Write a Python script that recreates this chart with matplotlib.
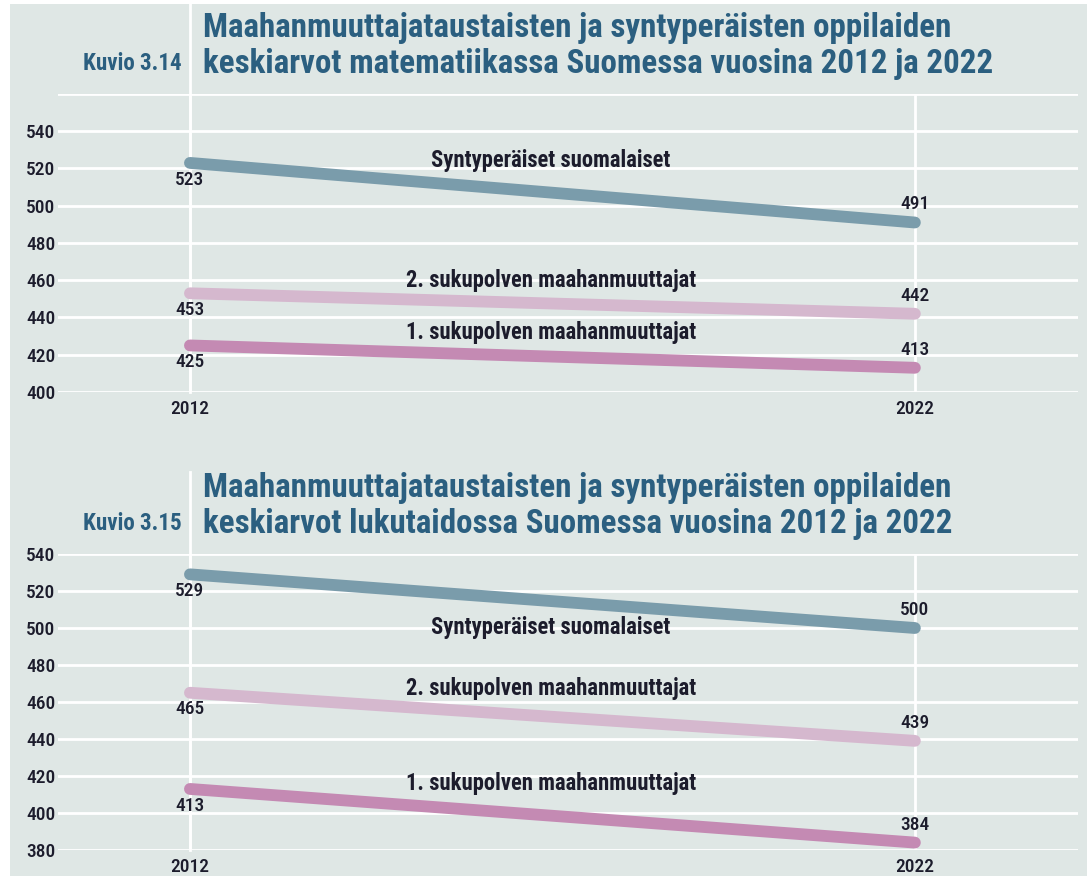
import matplotlib
matplotlib.use('Agg')
import matplotlib.pyplot as plt
from matplotlib import font_manager
from matplotlib.font_manager import FontProperties
from matplotlib.patches import Rectangle

# Data
years = [2012, 2022]
series_names = ['Syntyperäiset suomalaiset',
                '2. sukupolven maahanmuuttajat',
                '1. sukupolven maahanmuuttajat']
math_values = [[523, 491], [453, 442], [425, 413]]
read_values = [[529, 500], [465, 439], [413, 384]]
math_ticks = [400, 420, 440, 460, 480, 500, 520, 540, 560]
read_ticks = [380, 400, 420, 440, 460, 480, 500, 520, 540]

math_title = ['Maahanmuuttajataustaisten ja syntyperäisten oppilaiden',
              'keskiarvot matematiikassa Suomessa vuosina 2012 ja 2022']
read_title = ['Maahanmuuttajataustaisten ja syntyperäisten oppilaiden',
              'keskiarvot lukutaidossa Suomessa vuosina 2012 ja 2022']

# Värit
colors = ['#7a9cab', '#d5b8ce', '#c48ab3']
BG = '#dfe7e5'
TITLE_C = '#2b5f80'
TEXT_C = '#1c1c2c'


# Etsitään kapea (condensed) fontti, jos sellainen löytyy
def weight_num(w):
    if isinstance(w, (int, float)):
        return int(w)
    return font_manager.weight_dict.get(str(w), 400)


narrow = {}
for f in font_manager.fontManager.ttflist:
    st = str(f.stretch)
    if 'condensed' in st or st.isdigit() and int(st) < 100 or 'Narrow' in f.name:
        if f.style != 'normal':
            continue
        narrow.setdefault(f.name, {})[weight_num(f.weight)] = f.fname

bold_path, reg_path = None, None
for name in ['Roboto Condensed', 'Open Sans Condensed', 'Open Sans', 'Noto Sans',
             'Liberation Sans Narrow', 'DejaVu Sans'] + sorted(narrow):
    if name in narrow:
        ws = narrow[name]
        b = [w for w in ws if w >= 600]
        r = [w for w in ws if 400 <= w < 600]
        if b:
            bold_path = ws[min(b, key=lambda w: abs(w - 700))]
            reg_path = ws[min(r, key=lambda w: abs(w - 500))] if r else bold_path
            break

if bold_path:
    FP_BOLD = FontProperties(fname=bold_path)
    FP_REG = FontProperties(fname=reg_path)
else:
    FP_BOLD = FontProperties(family='DejaVu Sans', weight='bold')
    FP_REG = FontProperties(family='DejaVu Sans')

W, H = 1087, 876
fig = plt.figure(figsize=(W / 100, H / 100), dpi=100)
fig.patch.set_facecolor('white')
fig.patches.append(Rectangle((10 / W, 0), 1 - 10 / W, (H - 4) / H,
                             transform=fig.transFigure, facecolor=BG,
                             edgecolor='none', zorder=-10))
renderer = fig.canvas.get_renderer()


def fit_width(t, target_px, max_size=None):
    bb = t.get_window_extent(renderer)
    size = t.get_fontsize() * target_px / bb.width
    if max_size:
        size = min(size, max_size)
    t.set_fontsize(size)
    return size


def px_axes(left, top, right, bottom):
    return fig.add_axes([left / W, 1 - bottom / H, (right - left) / W, (bottom - top) / H])


def draw_panel(ax, values, ticks, label_pos, vline_top):
    ax.set_facecolor('none')
    ax.set_xlim(2010.18, 2024.25)
    ax.set_ylim(ticks[0], ticks[-1])
    ax.set_yticks(ticks)
    ax.set_yticklabels([str(t) if t != 560 else '' for t in ticks])
    ax.set_xticks(years)
    ax.grid(True, color='white', linewidth=2, zorder=0)
    for s in ax.spines.values():
        s.set_visible(False)
    ax.tick_params(length=0, labelcolor=TEXT_C)
    ax.tick_params(axis='y', pad=2)
    ax.tick_params(axis='x', pad=6)
    for lab in ax.get_yticklabels() + ax.get_xticklabels():
        lab.set_fontproperties(FP_REG)
        lab.set_fontsize(tick_size)
    # 2012 viiva jatkuu otsikon taakse
    ax.axvline(2012, 0, vline_top, color='white', linewidth=2, clip_on=False, zorder=0)

    for vals, col, name, (lx, ly) in zip(values, colors, series_names, label_pos):
        ax.plot(years, vals, color=col, linewidth=8.5, solid_capstyle='round', zorder=3)
        ax.annotate(str(vals[0]), (years[0], vals[0]), xytext=(0, -12),
                    textcoords='offset points', ha='center', va='center',
                    fontproperties=FP_REG, fontsize=tick_size, color=TEXT_C, zorder=4)
        ax.annotate(str(vals[1]), (years[1], vals[1]), xytext=(0, 13),
                    textcoords='offset points', ha='center', va='center',
                    fontproperties=FP_REG, fontsize=tick_size, color=TEXT_C, zorder=4)
        ax.text(lx, ly, name, ha='center', va='center', fontproperties=FP_BOLD,
                fontsize=label_size, color=TEXT_C, zorder=4)


# Fonttikoot sovitetaan leveyden mukaan
probe = fig.text(0, 0, '540', fontproperties=FP_REG, fontsize=13)
tick_size = fit_width(probe, 29, max_size=15)
probe.remove()
probe = fig.text(0, 0, series_names[0], fontproperties=FP_BOLD, fontsize=14)
label_size = fit_width(probe, 242, max_size=17)
probe.remove()

ax1 = px_axes(58, 94, 1078, 392)
draw_panel(ax1, math_values, math_ticks,
           [(2016.98, 524.5), (2016.98, 460), (2016.98, 432)], 1.302)

ax2 = px_axes(58, 554, 1078, 850)
draw_panel(ax2, read_values, read_ticks,
           [(2016.98, 500.5), (2016.98, 467.5), (2016.98, 416)], 1.277)

# Otsikot
for lines, y1, y2, kuvio in [(math_title, 28, 64, 'Kuvio 3.14'),
                             (read_title, 488, 524, 'Kuvio 3.15')]:
    t1 = fig.text(203 / W, 1 - y1 / H, lines[0], ha='left', va='center',
                  fontproperties=FP_BOLD, fontsize=21, color=TITLE_C)
    size = fit_width(t1, 747, max_size=26)
    fig.text(203 / W, 1 - y2 / H, lines[1], ha='left', va='center',
             fontproperties=FP_BOLD, fontsize=size, color=TITLE_C)
    k = fig.text(182 / W, 1 - y2 / H, kuvio, ha='right', va='center',
                 fontproperties=FP_BOLD, fontsize=14, color=TITLE_C)
    fit_width(k, 99, max_size=17)

fig.savefig('out.png', dpi=100)
